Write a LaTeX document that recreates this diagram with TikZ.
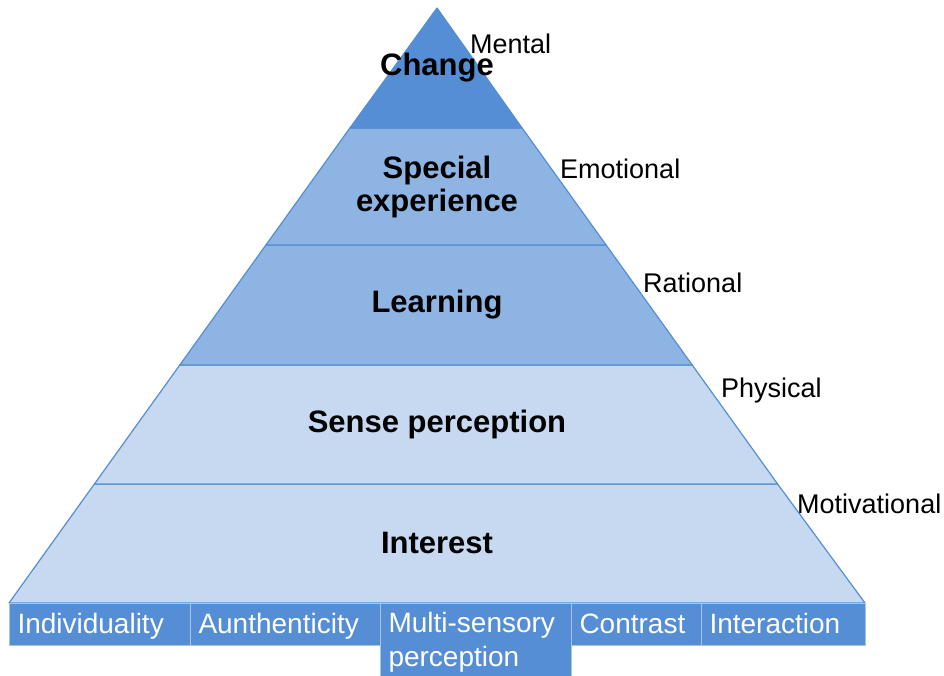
\documentclass[tikz,border=0pt]{standalone}
\usepackage{fontspec}
\setmainfont{Liberation Sans}
\usepackage{xcolor}
\definecolor{topblue}{HTML}{558ED5}
\definecolor{midblue}{HTML}{8EB4E3}
\definecolor{lightblue}{HTML}{C6D9F1}
\definecolor{boxedge}{HTML}{A9C4EB}

\begin{document}
\begin{tikzpicture}[x=1pt,y=-1pt,
    layer/.style={draw=topblue, line width=1.2pt, line join=round},
    lvl/.style={font=\bfseries\fontsize{31}{33}\selectfont, align=center},
    side/.style={anchor=west, inner sep=0pt, font=\fontsize{27}{30}\selectfont},
    boxlabel/.style={draw=boxedge, line width=1pt, fill=topblue, text=white, anchor=north west,
        inner xsep=8pt, inner ysep=3pt, align=left, minimum height=42pt,
        text height=22pt, text depth=4pt, font=\fontsize{28}{34}\selectfont}]
    \useasboundingbox (0,0) rectangle (944,676);
    \filldraw[layer, fill=lightblue] (94.4,484) -- (777.6,484) -- (865,603) -- (9,603) -- cycle;
    \filldraw[layer, fill=lightblue] (179.8,365) -- (692.2,365) -- (777.6,484) -- (94.4,484) -- cycle;
    \filldraw[layer, fill=midblue] (265.9,245) -- (606.1,245) -- (692.2,365) -- (179.8,365) -- cycle;
    \filldraw[layer, fill=midblue] (349.9,128) -- (522.1,128) -- (606.1,245) -- (265.9,245) -- cycle;
    \filldraw[layer, fill=topblue] (437,8) -- (522.1,128) -- (349.9,128) -- cycle;
    \node[lvl] (change) at (437,68) {Change};
    \node[lvl] (special) at (437,187) {Special\\experience};
    \node[lvl] (learning) at (437,305) {Learning};
    \node[lvl] (sense) at (437,424) {Sense perception};
    \node[lvl] (interest) at (437,543) {Interest};
    \node[side] (mental) at (470,44) {Mental};
    \node[side] (emotional) at (560,169) {Emotional};
    \node[side] (rational) at (643,283) {Rational};
    \node[side] (physical) at (721,391) {Physical};
    \node[side] (motivational) at (797,504) {Motivational};
    \node[boxlabel, minimum width=181pt, text width=165pt] (indiv) at (9,603) {Individuality};
    \node[boxlabel, minimum width=190pt, text width=174pt] (authen) at (190,603) {Aunthenticity};
    \node[boxlabel, minimum width=191pt, text width=175pt, minimum height=73pt, text depth=38pt] (multi) at (380,603) {Multi-sensory\\perception};
    \node[boxlabel, minimum width=130pt, text width=114pt] (contrast) at (571,603) {Contrast};
    \node[boxlabel, minimum width=164pt, text width=148pt] (interact) at (701,603) {Interaction};
\end{tikzpicture}
\end{document}
